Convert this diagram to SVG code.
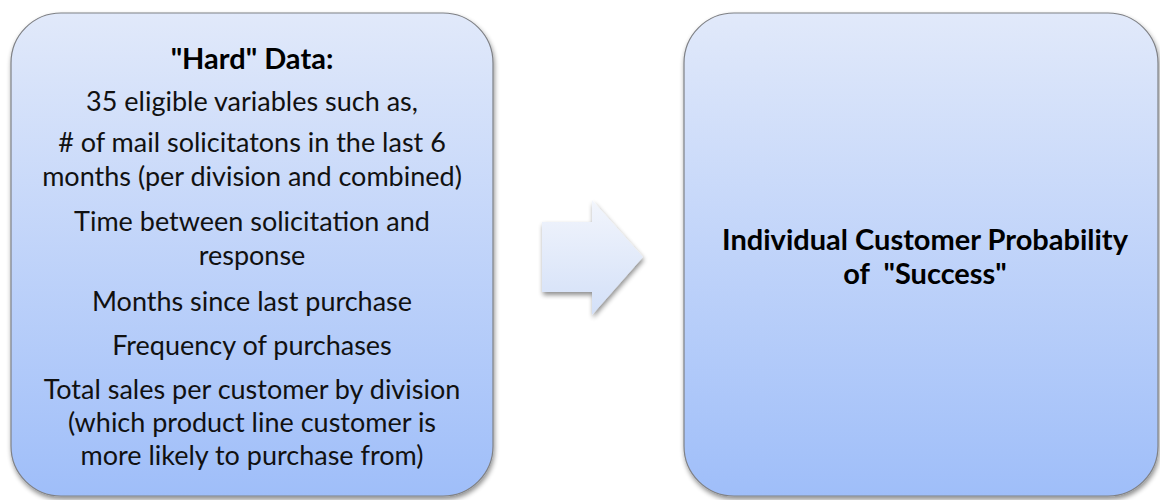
<svg xmlns="http://www.w3.org/2000/svg" width="1160" height="500" viewBox="0 0 1160 500">
<defs>
<linearGradient id="boxGrad" x1="0" y1="0" x2="0" y2="1">
<stop offset="0" stop-color="#e1e9fa"/>
<stop offset="1" stop-color="#9fbef9"/>
</linearGradient>
<linearGradient id="arrowGrad" x1="0" y1="0" x2="0" y2="1">
<stop offset="0" stop-color="#f2f5fc"/>
<stop offset="1" stop-color="#d3e0f8"/>
</linearGradient>
<filter id="shadow" x="-10%" y="-10%" width="130%" height="130%">
<feGaussianBlur in="SourceAlpha" stdDeviation="2.5"/>
<feOffset dx="1" dy="3" result="b"/>
<feComponentTransfer><feFuncA type="linear" slope="0.45"/></feComponentTransfer>
<feMerge><feMergeNode/><feMergeNode in="SourceGraphic"/></feMerge>
</filter>
</defs>
<style>
.box{fill:url(#boxGrad);stroke:#7f8186;stroke-width:1.2;filter:url(#shadow);}
.t{font-family:Lato,"Liberation Sans",sans-serif;font-size:27px;fill:#111;text-anchor:middle;}
.b{font-family:Lato,"Liberation Sans",sans-serif;font-size:29px;font-weight:bold;fill:#000;text-anchor:middle;white-space:pre;}
.arrow{fill:url(#arrowGrad);filter:url(#shadow);}
</style>
<rect width="1160" height="500" fill="#ffffff"/>
<g id="connectors">
<path class="arrow" d="M542,222 L592,222 L592,200 L643,257 L592,315 L592,292 L542,292 Z"/>
</g>
<g id="node-hard-data">
<rect class="box" x="11" y="13" width="482" height="483" rx="50" ry="50"/>
<text class="b" x="252" y="69">"Hard" Data:</text>
<text class="t" x="252" y="111">35 eligible variables such as,</text>
<text class="t" x="252" y="152"># of mail solicitatons in the last 6</text>
<text class="t" x="252" y="186">months (per division and combined)</text>
<text class="t" x="252" y="231">Time between solicitation and</text>
<text class="t" x="252" y="265">response</text>
<text class="t" x="252" y="311">Months since last purchase</text>
<text class="t" x="252" y="355">Frequency of purchases</text>
<text class="t" x="252" y="399">Total sales per customer by division</text>
<text class="t" x="252" y="432">(which product line customer is</text>
<text class="t" x="252" y="465">more likely to purchase from)</text>
</g>
<g id="node-success">
<rect class="box" x="684" y="13" width="474" height="483" rx="50" ry="50"/>
<text class="b" x="925" y="250">Individual Customer Probability</text>
<text class="b" x="925" y="284" xml:space="preserve">of  "Success"</text>
</g>
</svg>
